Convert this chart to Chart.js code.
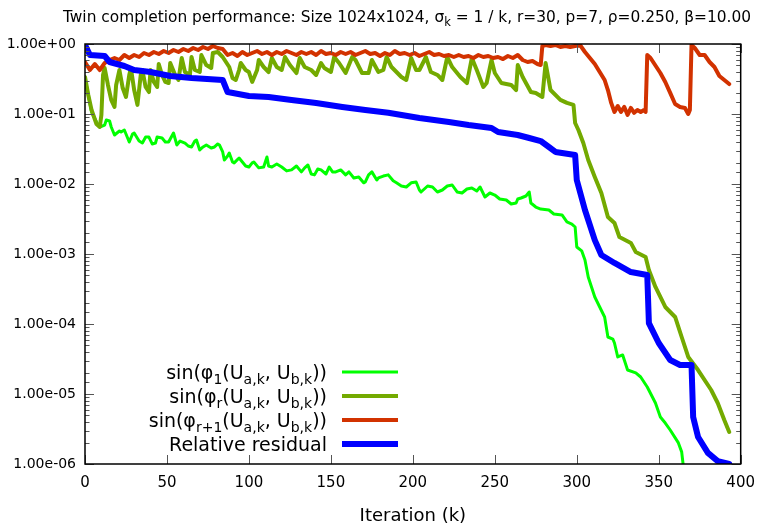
<!DOCTYPE html>
<html>
<head>
<meta charset="utf-8">
<script src="https://cdn.jsdelivr.net/npm/chart.js@4.4.1/dist/chart.umd.min.js"></script>
<style>
  html, body { margin: 0; padding: 0; background: #fff; }
</style>
</head>
<body>
<canvas id="chart" width="765" height="527"></canvas>
<script>
// === data (iteration k, value) ===
const sin1Iter = [0,2,4,7,9,12,13,15,16,18, 21,22,24,26,27,29,30,33,35,37,
  39,41,43,44,47,49,51,53,54,56, 58,61,63,65,67,68,70,72,74,77,
  79,81,82,84,85,87,88,90,91,94, 95,98,100,102,103,106,109,111,112,114,
  117,120,123,126,129,132,134,136,138,140, 142,144,147,149,151,153,156,159,161,164,
  167,170,171,173,175,178,179,182,185,188, 190,193,196,199,202,204,205,209,212,215,
  218,221,224,227,230,233,236,239,241,244, 247,250,253,257,260,263,264,266,269,271,
  272,275,278,283,286,291,294,297,299,300, 303,305,307,309,311,314,317,319,322,323,
  325,328,329,331,336,339,343,348,351,354, 357,362,364,365];
const sin1Val = [.327,.187,.107,.0769,.0652,.0696,.0821,.0794,.0652,.0501,
  .0572,.0553,.0591,.0454,.0398,.0518,.0535,.0411,.0385,.0469,
  .0469,.0373,.0385,.0469,.0454,.0398,.0398,.0485,.0535,.0361,
  .0411,.0385,.0349,.0338,.0411,.0425,.0306,.0338,.0361,.0327,
  .0338,.0373,.0361,.0287,.0220,.0251,.0277,.0206,.0200,.0235,
  .0220,.0181,.0175,.0200,.0206,.0170,.0175,.0243,.0181,.0175,
  .0193,.0175,.0154,.0159,.0181,.0149,.0170,.0187,.0139,.0135,
  .0164,.0159,.0139,.0175,.0149,.0149,.0159,.0135,.0149,.0122,
  .0126,.0104,.0107,.0135,.0149,.0114,.0122,.0130,.0135,.0111,
  .0104,.00936,.00906,.0104,.0107,.00821,.00769,.00936,.00906,.00769,
  .00821,.00936,.00968,.00769,.00744,.00848,.00877,.00794,.00906,.00652,
  .00744,.00696,.00610,.00591,.00518,.00535,.00610,.00631,.00674,.00769,
  .00535,.00469,.00439,.00425,.00373,.00361,.00287,.00268,.00243,.00126,
  .00111,.000821,.000469,.000338,.000243,.000175,.000126,6.52e-5,6.1e-5,5.35e-5,
  3.38e-5,3.61e-5,3.06e-5,2.2e-5,2.0e-5,1.75e-5,1.26e-5,7.44e-6,4.69e-6,3.85e-6,
  3.06e-6,2.0e-6,1.49e-6,9.36e-7];

const sinRIter = [0,2,4,7,9,10,11,12,14,16, 18,19,21,23,25,27,28,30,32,34,
  35,37,39,40,42,44,45,47,49,51, 52,55,57,59,61,64,65,67,70,71,
  74,77,78,81,84,88,90,92,94,95, 98,100,102,105,106,109,112,114,117,120,
  122,125,129,131,134,138,141,144,146,150, 152,155,159,163,165,169,173,175,179,182,
  184,187,193,196,199,202,204,208,211,215, 218,221,224,229,233,236,239,243,245,248,
  250,254,260,263,264,267,272,275,279,281, 284,290,294,298,299,301,304,307,311,315,
  319,323,326,333,336,342,344,348,354,360, 364,368,374,382,386,390,393];
const sinRVal = [.338,.187,.114,.0720,.0652,.0968,.361,.454,.260,.159,
  .126,.260,.425,.235,.175,.361,.454,.220,.135,.361,
  .425,.243,.206,.425,.287,.243,.518,.361,.287,.277,
  .535,.361,.306,.631,.398,.361,.652,.425,.398,.696,
  .501,.454,.744,.769,.652,.469,.327,.306,.425,.535,
  .425,.398,.287,.425,.591,.469,.398,.631,.469,.425,
  .652,.501,.385,.631,.469,.425,.361,.535,.454,.398,
  .652,.535,.385,.652,.591,.385,.385,.591,.398,.425,
  .652,.469,.338,.306,.631,.425,.425,.652,.398,.361,
  .306,.652,.469,.338,.277,.631,.425,.243,.277,.591,
  .385,.277,.260,.220,.501,.338,.206,.200,.175,.535,
  .220,.159,.144,.135,.0744,.0591,.0385,.0220,.0126,.00744,
  .00338,.00277,.00175,.00144,.00107,.000906,.000591,.000338,.000175,.000126,
  6.52e-5,3.38e-5,2.2e-5,1.14e-5,7.44e-6,4.25e-6,2.87e-6];

const sinR1Iter = [0,3,6,9,12,15,18,21,24,27,30,33,36,39,42,45,48,51,54,57,
  60,63,66,69,72,75,78,81,84,87,90,93,96,99,102,105,108,111,114,117,
  120,123,126,129,132,135,138,141,144,147,150,153,156,159,162,165,168,171,174,177,
  180,183,186,189,192,195,198,201,204,207,210,213,216,219,222,225,228,231,234,237,
  240,243,246,249,252,255,258,261,264,267,270,273,276,278,279,281,284,287,290,293,
  296,299,302,305,308,311,314,317,319,321,323,325,327,329,331,333,335,337,339,341,
  342,343,345,347,349,351,354,357,360,363,366,368,369,370,372,375,378,381,384,387,
  390,393];
const sinR1Val = [.553,.425,.518,.425,.535,.591,.631,.591,.696,.631,.696,.652,.744,.696,.769,.720,.794,.744,.821,.769,
  .848,.794,.877,.821,.906,.848,.936,.877,.848,.696,.744,.674,.769,.696,.744,.794,.720,.769,.696,.769,
  .720,.794,.744,.696,.769,.720,.769,.696,.794,.720,.744,.696,.769,.720,.769,.696,.744,.794,.720,.744,
  .674,.744,.696,.794,.720,.744,.696,.744,.674,.720,.769,.696,.720,.674,.696,.652,.696,.652,.674,.631,
  .696,.652,.674,.631,.652,.610,.674,.631,.696,.591,.553,.572,.518,.501,.936,.968,.936,.968,.906,.936,
  .906,.936,.968,.769,.631,.518,.398,.306,.220,.144,.107,.130,.107,.126,.097,.122,.104,.114,.107,.114,
  .107,.696,.631,.535,.454,.385,.287,.200,.139,.126,.122,.100,.114,.968,.877,.696,.696,.553,.469,.349,
  .306,.268];

const residIter = [0,3,12,15,24,30,40,52,65,84, 87,100,112,126,141,157,171,185,204,222,
  234,248,252,264,271,278,283,287,299,300, 305,311,315,323,333,343,344,350,357,363,
  370,371,374,380,386,393];
const residVal = [.968,.696,.674,.553,.485,.425,.398,.349,.327,.306,
  .206,.181,.175,.159,.144,.126,.114,.104,.0877,.0769,
  .0696,.0631,.0553,.0501,.0454,.0411,.0338,.0287,.026,.0114,
  .00425,.00158,.000968,.000744,.000553,.000501,.000103,5.35e-5,3.06e-5,2.6e-5,
  2.6e-5,4.7e-6,2.43e-6,1.44e-6,1.1e-6,1.0e-6];

const xTicks = [0, 50, 100, 150, 200, 250, 300, 350, 400];

// legend labels as [text, isSubscript] pieces
const legendLabels = [
  [['sin(φ',0],['1',1],['(U',0],['a,k',1],[', U',0],['b,k',1],['))',0]],
  [['sin(φ',0],['r',1],['(U',0],['a,k',1],[', U',0],['b,k',1],['))',0]],
  [['sin(φ',0],['r+1',1],['(U',0],['a,k',1],[', U',0],['b,k',1],['))',0]],
  [['Relative residual',0]]
];
const titleParts = [['Twin completion performance: Size 1024x1024, σ',0],['k',1],[' = 1 / k, r=30, p=7, ρ=0.250, β=10.00',0]];

const FONT = '"DejaVu Sans", "Liberation Sans", sans-serif';
const zip = (xs, ys) => xs.map((k, i) => ({ x: k, y: ys[i] }));
const isDecade = v => Math.abs(Math.log10(v) - Math.round(Math.log10(v))) < 1e-6;

function richWidth(ctx, parts, size, subSize){
  let w = 0;
  parts.forEach(([t, sub]) => {
    ctx.font = `${sub ? subSize : size}px ${FONT}`;
    w += ctx.measureText(t).width;
  });
  return w;
}
function drawRich(ctx, parts, x, y, size, subSize, subShift){
  parts.forEach(([t, sub]) => {
    ctx.font = `${sub ? subSize : size}px ${FONT}`;
    ctx.fillText(t, x, sub ? y + subShift : y);
    x += ctx.measureText(t).width;
  });
}

// frame, gnuplot-style inward ticks, title and legend
const decor = {
  id: 'decor',
  afterDraw(chart){
    const { ctx, chartArea: a, scales: { x, y } } = chart;
    ctx.save();
    ctx.strokeStyle = '#555';
    ctx.lineWidth = 1;
    ctx.beginPath();
    y.ticks.forEach(t => {
      const py = Math.round(y.getPixelForValue(t.value)) + 0.5;
      const len = isDecade(t.value) ? 9 : 4.5;
      ctx.moveTo(a.left, py); ctx.lineTo(a.left + len, py);
      ctx.moveTo(a.right, py); ctx.lineTo(a.right - len, py);
    });
    x.ticks.forEach(t => {
      const px = Math.round(x.getPixelForValue(t.value)) + 0.5;
      ctx.moveTo(px, a.bottom); ctx.lineTo(px, a.bottom - 9);
      ctx.moveTo(px, a.top); ctx.lineTo(px, a.top + 9);
    });
    ctx.stroke();
    ctx.strokeStyle = '#000';
    ctx.lineWidth = 1.5;
    ctx.strokeRect(a.left, a.top, a.right - a.left, a.bottom - a.top);

    ctx.fillStyle = '#000';
    ctx.textBaseline = 'alphabetic';
    ctx.textAlign = 'left';
    // title
    const tw = richWidth(ctx, titleParts, 15.4, 11.5);
    drawRich(ctx, titleParts, 407 - tw / 2, 22, 15.4, 11.5, 4);

    // legend
    chart.data.datasets.forEach((ds, i) => {
      const rowY = 372 + i * 24;
      const parts = legendLabels[i];
      const w = richWidth(ctx, parts, 19, 14);
      drawRich(ctx, parts, 327 - w, rowY + 7, 19, 14, 5);
      ctx.strokeStyle = ds.borderColor;
      ctx.lineWidth = ds.borderWidth;
      ctx.beginPath();
      ctx.moveTo(342, rowY); ctx.lineTo(398, rowY);
      ctx.stroke();
    });
    ctx.restore();
  }
};

new Chart(document.getElementById('chart'), {
  type: 'line',
  data: {
    datasets: [
      { data: zip(sin1Iter, sin1Val),   borderColor: '#00ff00', borderWidth: 3, order: 4 },
      { data: zip(sinRIter, sinRVal),   borderColor: '#73aa00', borderWidth: 4, order: 3 },
      { data: zip(sinR1Iter, sinR1Val), borderColor: '#d23200', borderWidth: 4, order: 2 },
      { data: zip(residIter, residVal), borderColor: '#0000ff', borderWidth: 6, order: 1 }
    ]
  },
  options: {
    responsive: false,
    animation: false,
    events: [],
    elements: {
      point: { radius: 0 },
      line: { tension: 0, borderJoinStyle: 'round', borderCapStyle: 'round', fill: false }
    },
    layout: { padding: { top: 44, right: 22, left: 0, bottom: 0 } },
    plugins: { legend: { display: false }, tooltip: { enabled: false }, title: { display: false } },
    scales: {
      x: {
        type: 'linear', min: 0, max: 400,
        afterBuildTicks: s => { s.ticks = xTicks.map(v => ({ value: v })); },
        afterFit: s => { s.height = 63; },
        grid: { display: false, drawTicks: false },
        border: { display: false },
        ticks: { color: '#000', font: { family: FONT, size: 15 }, padding: 10, maxRotation: 0 },
        title: { display: true, text: 'Iteration (k)', color: '#000', font: { family: FONT, size: 18 }, padding: { top: 6, bottom: 0 } }
      },
      y: {
        type: 'logarithmic', min: 1e-6, max: 1,
        afterFit: s => { s.width = 85; },
        grid: { display: false, drawTicks: false },
        border: { display: false },
        ticks: {
          autoSkip: false, color: '#000', font: { family: FONT, size: 14 }, padding: 9,
          callback: v => {
            if (!isDecade(v)) return '';
            const [m, e] = v.toExponential(2).split('e');
            const sign = e[0] === '-' ? '-' : '+';
            return m + 'e' + sign + String(Math.abs(+e)).padStart(2, '0');
          }
        }
      }
    }
  },
  plugins: [decor]
});
</script>
</body>
</html>
